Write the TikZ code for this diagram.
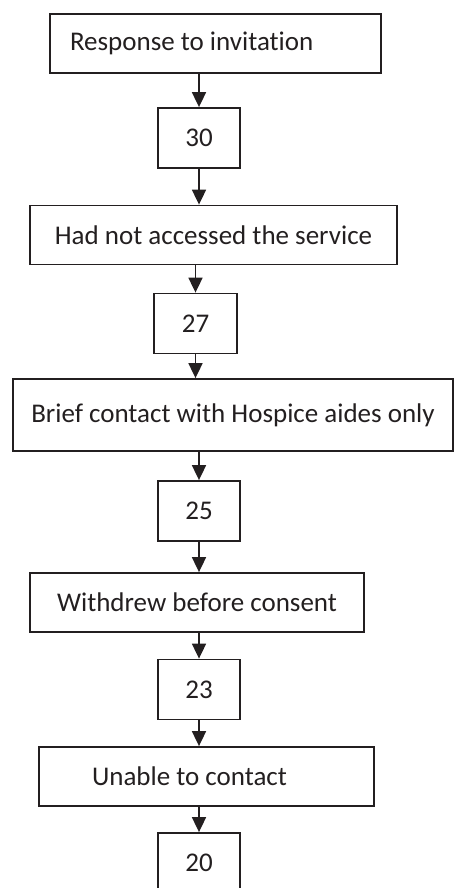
\documentclass[tikz,border=0pt]{standalone}
\usepackage{fontspec}
\setmainfont{Carlito}[Ligatures=NoCommon]
\usetikzlibrary{arrows.meta}
\definecolor{inkc}{HTML}{231F20}

\begin{document}
\begin{tikzpicture}[>={Triangle[width=14pt,length=15pt]}, x=1pt, y=1pt, line width=1.8pt, color=inkc]
  \tikzset{widebox/.style = { draw, rectangle, minimum height = 59pt, inner sep = 0pt, font = \fontsize{27}{32}\selectfont }}
  \tikzset{numbox/.style = { draw, rectangle, minimum width = 82pt, minimum height = 60pt, inner sep = 0pt, font = \fontsize{27}{32}\selectfont }}
  % page is 454 x 888, the last box runs off the bottom
  \clip (0,0) rectangle (454,-888);

  \node[name = resp, widebox, minimum width = 331pt, inner xsep = 20pt, text width = 291pt, align = flush left] at (215.5,-43.5) {Response to invitation};
  \node[name = n30, numbox] at (199,-138) {30};
  \node[name = notacc, widebox, minimum width = 367pt] at (213.5,-235) {Had not accessed the service};
  \node[name = n27, numbox, minimum width = 83pt] at (195.5,-323.5) {27};
  \node[name = brief, widebox, minimum width = 440pt, minimum height = 72pt] at (233,-415) {Brief contact with Hospice aides only};
  \node[name = n25, numbox] at (199,-511) {25};
  \node[name = withdrew, widebox, minimum width = 334pt] at (197,-602.5) {Withdrew before consent};
  \node[name = n23, numbox] at (199,-689.5) {23};
  \node[name = unable, widebox, minimum width = 335pt, inner xsep = 53pt, text width = 229pt, align = flush left] at (206.5,-776.5) {Unable to contact};
  \node[name = n20, numbox] at (199,-863) {20};

  \draw [->] (n30|-resp.south) -- (n30);
  \draw [->] (n30) -- (n30|-notacc.north);
  \draw [->] (n27|-notacc.south) -- (n27);
  \draw [->] (n27) -- (n27|-brief.north);
  \draw [->] (n25|-brief.south) -- (n25);
  \draw [->] (n25) -- (n25|-withdrew.north);
  \draw [->] (n23|-withdrew.south) -- (n23);
  \draw [->] (n23) -- (n23|-unable.north);
  \draw [->] (n20|-unable.south) -- (n20);
\end{tikzpicture}
\end{document}
